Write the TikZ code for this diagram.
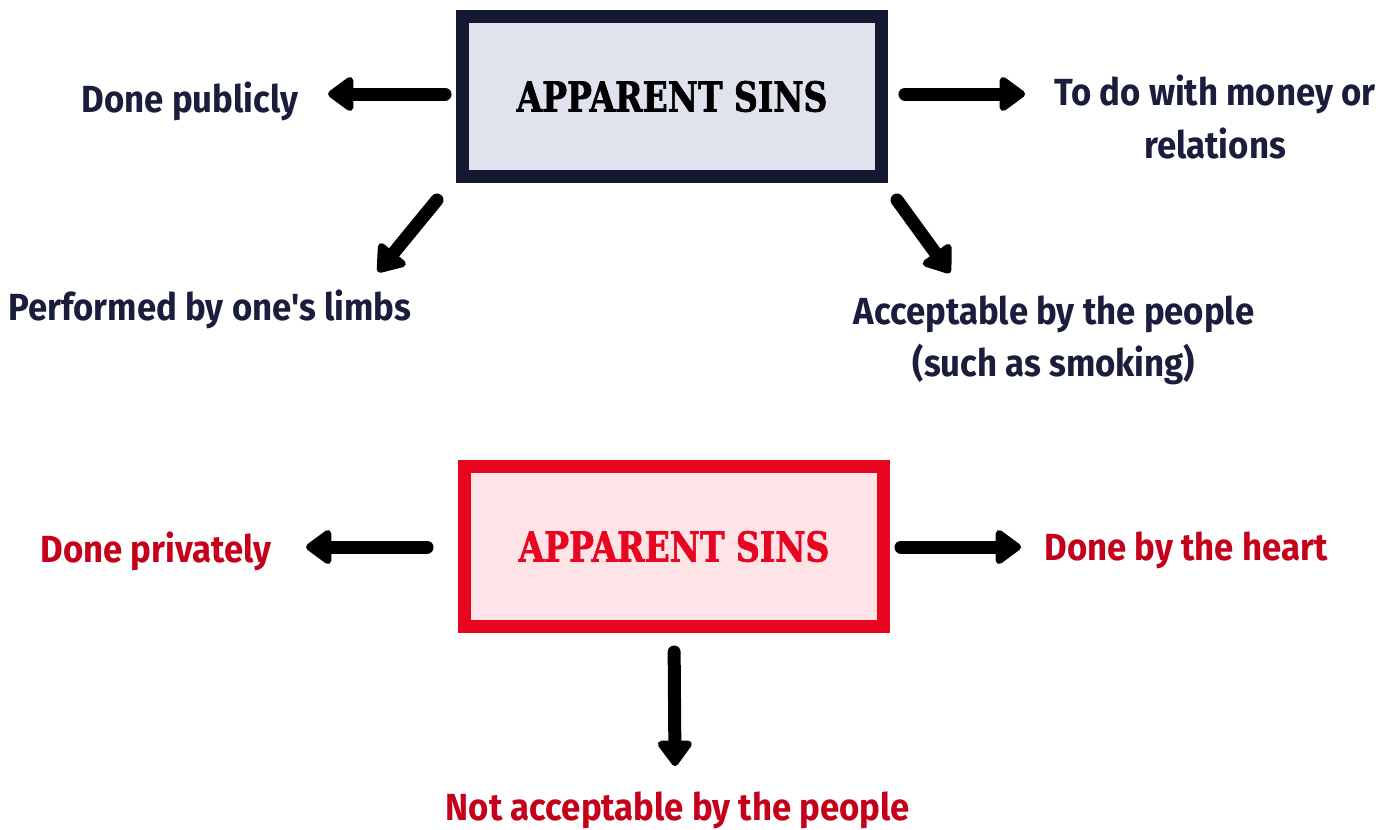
\documentclass[tikz,border=0pt]{standalone}
\usepackage{fontspec}
\setmainfont{Fira Sans}[FakeStretch=0.92,Ligatures=TeXOff]
\newfontfamily\slabfont{DejaVu Serif}[FakeStretch=0.8,FakeBold=1.6]
\usetikzlibrary{arrows.meta}
\definecolor{sinnavy}{HTML}{151934}
\definecolor{sinnavyfill}{HTML}{E0E2ED}
\definecolor{sinred}{HTML}{E8051F}
\definecolor{sinredfill}{HTML}{FEE3E7}
\definecolor{labnavy}{HTML}{1B1D3D}
\definecolor{labred}{HTML}{C4001A}
\begin{document}
\begin{tikzpicture}[x=0.02cm,y=-0.02cm,
	sinbox/.style={rectangle,line width=0.26cm,minimum width=8.38cm,minimum height=3.2cm,
		font=\slabfont\bfseries\fontsize{23.5}{28}\selectfont},
	lab/.style={inner sep=0pt,font=\bfseries\fontsize{21.5}{29.6}\selectfont},
	sinarrow/.style={line width=0.26cm,line cap=round,-{Triangle[length=0.56cm,width=0.78cm,round]}}]
\useasboundingbox (0,0) rectangle (1399,829);

% outward sins
\node[sinbox,draw=sinnavy,fill=sinnavyfill,text=black] (outer) at (672,96.5) {APPARENT SINS};
\node[lab,text=labnavy,anchor=base] (publicly) at (190,112) {Done publicly};
\node[lab,text=labnavy,align=center] (money) at (1215,117) {To do with money or\\relations};
\node[lab,text=labnavy,anchor=base] (limbs) at (210,320) {Performed by one's limbs};
\node[lab,text=labnavy,align=center] (accept) at (1054,340) {Acceptable by the people\\(such as smoking)};

\coordinate (publiclytip) at (328,94);
\coordinate (moneytip) at (1025,94);
\coordinate (limbsfrom) at (437,200);
\coordinate (limbstip) at (378,272);
\coordinate (acceptfrom) at (897,200);
\coordinate (accepttip) at (950,273);

\draw[sinarrow,shorten <=0.22cm] (outer.west |- publiclytip) -- (publiclytip);
\draw[sinarrow,shorten <=0.34cm] (outer.east |- moneytip) -- (moneytip);
\draw[sinarrow] (limbsfrom) -- (limbstip);
\draw[sinarrow] (acceptfrom) -- (accepttip);

% inward sins
\node[sinbox,draw=sinred,fill=sinredfill,text=sinred] (inner) at (674,546.5) {APPARENT SINS};
\node[lab,text=labred,anchor=base] (privately) at (156,562) {Done privately};
\node[lab,text=labred,anchor=base] (heart) at (1186,560) {Done by the heart};
\node[lab,text=labred,anchor=base] (notaccept) at (678,820) {Not acceptable by the people};

\coordinate (privatelytip) at (306,547);
\coordinate (hearttip) at (1021,547);
\coordinate (notaccepttip) at (675,766);

\draw[sinarrow,shorten <=0.62cm] (inner.west |- privatelytip) -- (privatelytip);
\draw[sinarrow,shorten <=0.22cm] (inner.east |- hearttip) -- (hearttip);
\draw[sinarrow,shorten <=0.38cm] (inner.south) -- (notaccepttip);
\end{tikzpicture}
\end{document}
